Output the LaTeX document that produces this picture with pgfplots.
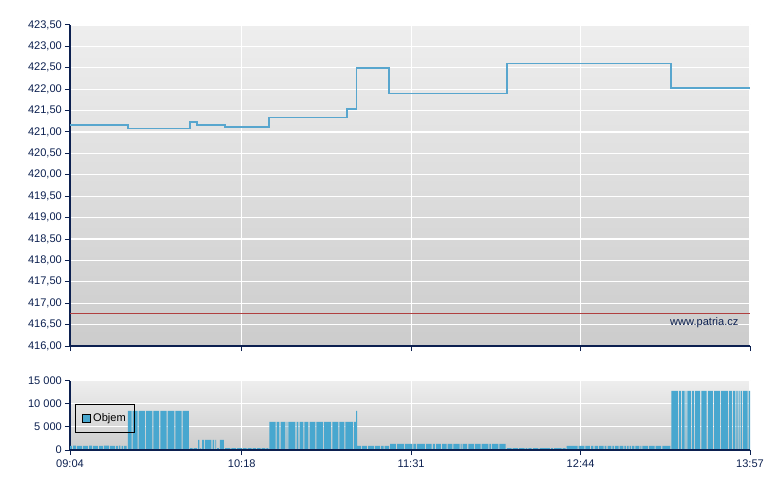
\documentclass[border=0pt]{standalone}
\usepackage{fontspec}
\setmainfont{Liberation Sans}
\usepackage{pgfplots}
\pgfplotsset{compat=1.18}
\definecolor{navy}{RGB}{12,32,80}
\definecolor{linecol}{RGB}{88,166,206}
\definecolor{barcol}{RGB}{72,167,207}
\definecolor{reflinecol}{RGB}{176,64,64}
\definecolor{bgtop}{RGB}{238,238,238}
\definecolor{bgbot}{RGB}{204,204,204}
\pgfplotsset{
  common/.style={
    scale only axis, width=510pt, xmin=0, xmax=293,
    axis x line*=bottom, axis y line*=left,
    axis line style={navy, line width=1.1pt, -},
    tick align=outside, major tick length=3.75pt,
    tick style={navy, line width=0.75pt},
    xtick={0,74,147,220,293},
    grid=major, major grid style={white, line width=0.9pt},
    tick label style={font=\fontsize{8.3}{10}\selectfont, text=navy},
    /pgf/number format/assume math mode=true,
    enlargelimits=false,
    axis background/.style={shade, top color=bgtop, bottom color=bgbot},
  }
}
\begin{document}
\begin{tikzpicture}
\useasboundingbox (0,0) rectangle (585pt,367.5pt);
% price panel
\begin{axis}[common, at={(52.5pt,108pt)}, anchor=south west, height=240.75pt,
  ymin=416, ymax=423.5, ytick={416,416.5,...,423.6}, xticklabels={},
  yticklabel style={xshift=1.2pt, /pgf/number format/use comma, /pgf/number format/fixed, /pgf/number format/fixed zerofill, /pgf/number format/precision=2}]
\addplot[reflinecol, line width=0.75pt] coordinates {(0,416.77) (293,416.77)};
\addplot[const plot, linecol, line width=1.3pt] coordinates {
(0,421.17) (24.9,421.08) (51.7,421.23) (54.6,421.17) (66.9,421.12) (85.9,421.34)
(119.2,421.53) (123.5,422.50) (137.6,421.90) (188.2,422.60) (259.1,422.03) (293,422.03)};
\node[anchor=east, font=\fontsize{8.3}{10}\selectfont, text=navy] at (rel axis cs:0.99,0.072) {www.patria.cz};
\end{axis}
% volume panel
\begin{axis}[common, at={(52.5pt,30pt)}, anchor=south west, height=52pt,
  ymin=0, ymax=15000, ytick={0,5000,10000,15000}, yticklabels={0,5 000,10 000,15 000},
  scaled y ticks=false,
  yticklabel style={xshift=1.2pt},
  xticklabels={09:04,10:18,11:31,12:44,13:57},
  legend style={at={(0.0078,0.25)}, anchor=south west, draw=black, fill=none, line width=0.75pt,
    font=\fontsize{8.3}{10}\selectfont, text=black, inner xsep=4.5pt, inner ysep=4.5pt},
  legend image code/.code={\draw[fill=barcol, draw=black, line width=0.75pt] (0pt,-2.9pt) rectangle (5.8pt,2.9pt);}]
\addplot[ybar interval, fill=barcol, draw=none] coordinates {
(0,900)(0.85,0)(1.3,950)(2.55,0)(3.0,900)(5.15,0)(5.6,900)(7.75,0)(8.2,950)(9.45,0)(9.9,900)(12.05,0)(12.5,900)(14.15,0)(14.6,950)(16.75,0)(17.2,900)(19.35,0)(19.8,900)(20.65,0)(21.1,950)(21.75,0)(22.2,900)(22.85,0)(23.3,900)(24.45,0)
(24.9,8450)(26.55,0)(27.0,8450)(29.15,0)(29.6,8450)(32.25,0)(32.7,8450)(35.45,0)(35.9,8450)(38.45,0)(38.9,8450)(41.65,0)(42.1,8450)(44.95,0)(45.4,8450)(48.05,0)(48.5,8450)(51.25,0)
(51.7,430)(52.85,0)(53.3,430)(54.75,0)
(55.2,2200)(55.75,0)(56.2,430)(56.45,0)(56.9,2200)(57.75,0)(58.2,2200)(60.95,0)(61.4,2200)(62.15,0)(62.6,2200)(62.95,0)(63.4,430)(64.15,0)(64.6,2200)(66.35,0)
(66.8,430)(69.05,0)(69.5,430)(71.55,0)(72,430)(74.05,0)(74.5,430)(76.05,0)(76.5,430)(78.25,0)(78.7,430)(80.15,0)(80.6,430)(82.15,0)(82.6,430)(84.15,0)(84.6,430)(85.45,0)
(85.9,6060)(88.55,0)(89.0,6060)(90.25,0)(90.7,6060)(92.85,0)(93.3,6060)(93.65,0)(94.1,6060)(97.15,0)(97.6,6060)(98.45,0)(98.9,6060)(100.55,0)(101.0,6060)(102.75,0)(103.2,6060)(105.75,0)(106.2,6060)(108.95,0)(109.4,6060)(112.55,0)(113.0,6060)(115.65,0)(116.1,6060)(118.25,0)(118.7,6060)(121.95,0)(122.4,6060)(123.3,8450)
(123.75,870)(125.45,0)(125.9,870)(127.95,0)(128.4,870)(130.95,0)(131.4,870)(133.65,0)(134.1,870)(135.15,0)(135.6,870)(137.45,0)
(137.9,1300)(140.45,0)(140.9,1300)(143.85,0)(144.3,1300)(147.55,0)(148.0,1300)(149.05,0)(149.5,1300)(152.95,0)(153.4,1300)(155.85,0)(156.3,1300)(157.25,0)(157.7,1300)(159.85,0)(160.3,1300)(162.25,0)(162.7,1300)(164.75,0)(165.2,1300)(167.85,0)(168.3,1300)(168.75,0)(169.2,1300)(171.15,0)(171.6,1300)(174.05,0)(174.5,1300)(176.95,0)(177.4,1300)(180.25,0)(180.7,1300)(181.35,0)(181.8,1300)(184.55,0)(185.0,1300)(187.75,0)
(188.2,430)(190.25,0)(190.7,430)(193.05,0)(193.5,430)(195.85,0)(196.3,430)(197.05,0)(197.5,430)(198.95,0)(199.4,430)(201.85,0)(202.3,430)(206.85,0)(207.3,430)(208.05,0)(208.5,430)(211.85,0)(212.3,430)(213.55,0)
(214.0,870)(218.75,0)(219.2,870)(221.65,0)(222.1,870)(224.05,0)(224.5,870)(225.55,0)(226.0,870)(227.55,0)(228.0,870)(229.95,0)(230.4,870)(231.15,0)(231.6,870)(233.25,0)(233.7,870)(234.45,0)(234.9,870)(236.35,0)(236.8,870)(238.45,0)(238.9,870)(239.65,0)(240.1,870)(240.65,0)(241.1,870)(241.75,0)(242.2,870)(243.15,0)(243.6,870)(245.35,0)(245.8,870)(246.15,0)(246.6,870)(248.95,0)(249.4,870)(251.85,0)(252.3,870)(254.75,0)(255.2,870)(258.65,0)
(259.1,12770)(262.05,0)(262.5,12770)(263.35,0)(263.8,12770)(264.85,0)(265.3,12770)(265.55,0)(266.0,12770)(267.65,0)(268.1,12770)(268.95,0)(269.4,12770)(271.55,0)(272.0,12770)(274.35,0)(274.8,12770)(277.05,0)(277.5,12770)(280.15,0)(280.6,12770)(283.45,0)(283.9,12770)(285.15,0)(285.6,12770)(286.65,0)(287.1,12770)(287.65,0)(288.1,12770)(288.55,0)(289.0,12770)(289.55,0)(290.0,12770)(291.95,0)(292.4,12770)(293,0)};
\addlegendentry{Objem}
\addplot[navy, line width=1.1pt, forget plot] coordinates {(0,0) (293,0)};
\end{axis}
\end{tikzpicture}
\end{document}
